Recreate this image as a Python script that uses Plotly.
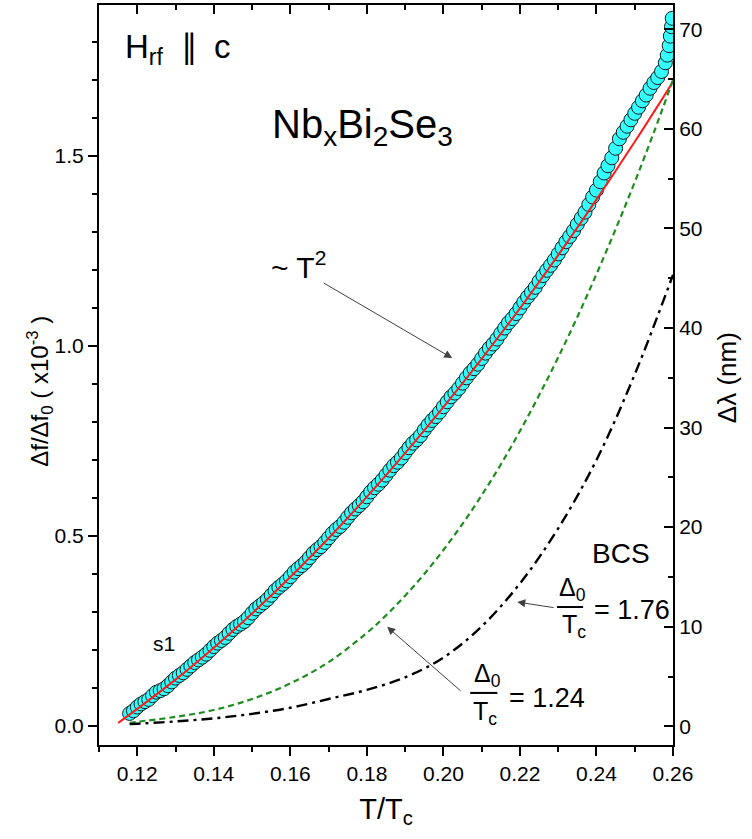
import plotly.graph_objects as go

# measured data, s1
t_data = [0.118, 0.119, 0.120, 0.121, 0.122, 0.123, 0.124, 0.125, 0.126, 0.127,
          0.128, 0.129, 0.130, 0.131, 0.132, 0.133, 0.134, 0.135, 0.136, 0.137,
          0.138, 0.139, 0.140, 0.141, 0.142, 0.143, 0.144, 0.145, 0.146, 0.147,
          0.148, 0.149, 0.150, 0.151, 0.152, 0.153, 0.154, 0.155, 0.156, 0.157,
          0.158, 0.159, 0.160, 0.161, 0.162, 0.163, 0.164, 0.165, 0.166, 0.167,
          0.168, 0.169, 0.170, 0.171, 0.172, 0.173, 0.174, 0.175, 0.176, 0.177,
          0.178, 0.179, 0.180, 0.181, 0.182, 0.183, 0.184, 0.185, 0.186, 0.187,
          0.188, 0.189, 0.190, 0.191, 0.192, 0.193, 0.194, 0.195, 0.196, 0.197,
          0.198, 0.199, 0.200, 0.201, 0.202, 0.203, 0.204, 0.205, 0.206, 0.207,
          0.208, 0.209, 0.210, 0.211, 0.212, 0.213, 0.214, 0.215, 0.216, 0.217,
          0.218, 0.219, 0.220, 0.221, 0.222, 0.223, 0.224, 0.225, 0.226, 0.227,
          0.228, 0.229, 0.230, 0.231, 0.232, 0.233, 0.234, 0.235, 0.236, 0.237,
          0.238, 0.239, 0.240, 0.241, 0.242, 0.243, 0.244, 0.245, 0.246, 0.247,
          0.248, 0.249, 0.250, 0.251, 0.252, 0.253, 0.254, 0.255, 0.256, 0.257,
          0.258, 0.2585, 0.259, 0.2593, 0.2596, 0.2598]
df_data = [0.033, 0.040, 0.050, 0.058, 0.064, 0.070, 0.080, 0.089, 0.093, 0.098,
           0.106, 0.116, 0.126, 0.133, 0.140, 0.149, 0.158, 0.167, 0.174, 0.181,
           0.189, 0.199, 0.209, 0.218, 0.225, 0.233, 0.244, 0.254, 0.262, 0.268,
           0.275, 0.285, 0.297, 0.308, 0.316, 0.324, 0.333, 0.344, 0.356, 0.365,
           0.373, 0.382, 0.393, 0.405, 0.414, 0.422, 0.431, 0.443, 0.455, 0.464,
           0.472, 0.483, 0.495, 0.507, 0.517, 0.525, 0.536, 0.549, 0.561, 0.571,
           0.580, 0.590, 0.603, 0.616, 0.627, 0.636, 0.647, 0.660, 0.673, 0.685,
           0.694, 0.705, 0.719, 0.732, 0.744, 0.753, 0.764, 0.779, 0.792, 0.804,
           0.814, 0.826, 0.840, 0.853, 0.866, 0.876, 0.888, 0.902, 0.916, 0.929,
           0.940, 0.952, 0.967, 0.981, 0.994, 1.005, 1.018, 1.033, 1.047, 1.061,
           1.072, 1.085, 1.100, 1.115, 1.129, 1.141, 1.154, 1.170, 1.185, 1.199,
           1.212, 1.226, 1.242, 1.258, 1.274, 1.288, 1.303, 1.320, 1.336, 1.352,
           1.372, 1.392, 1.410, 1.432, 1.455, 1.474, 1.495, 1.520, 1.545, 1.562,
           1.578, 1.595, 1.612, 1.628, 1.645, 1.660, 1.678, 1.693, 1.706, 1.722,
           1.745, 1.765, 1.790, 1.815, 1.840, 1.862]

# ~T^2 fit
t_fit = [0.115, 0.12, 0.13, 0.14, 0.15, 0.16, 0.17, 0.18, 0.19, 0.20, 0.21,
         0.22, 0.23, 0.24, 0.25, 0.26]
df_fit = [0.008, 0.045, 0.122, 0.206, 0.296, 0.392, 0.494, 0.603, 0.718, 0.839,
          0.966, 1.099, 1.239, 1.385, 1.537, 1.695]

# BCS curves
t_bcs = [0.118, 0.12, 0.13, 0.14, 0.15, 0.16, 0.17, 0.18, 0.185, 0.19, 0.195,
         0.20, 0.205, 0.21, 0.215, 0.22, 0.225, 0.23, 0.235, 0.24, 0.245, 0.25,
         0.255, 0.26]
df_bcs_124 = [0.008, 0.011, 0.024, 0.042, 0.071, 0.112, 0.168, 0.245, 0.291,
              0.343, 0.400, 0.463, 0.532, 0.607, 0.688, 0.776, 0.870, 0.970,
              1.076, 1.189, 1.307, 1.431, 1.562, 1.700]
t_bcs2 = [0.118, 0.12, 0.13, 0.14, 0.15, 0.16, 0.17, 0.18, 0.19, 0.20, 0.21,
          0.22, 0.23, 0.24, 0.25, 0.26]
df_bcs_176 = [0.005, 0.006, 0.012, 0.020, 0.032, 0.048, 0.071, 0.095, 0.128,
              0.180, 0.262, 0.375, 0.520, 0.700, 0.925, 1.187]

FONT = "Arial, Liberation Sans, sans-serif"

fig = go.Figure()

fig.add_trace(go.Scatter(
    x=t_data, y=df_data, mode="markers", name="s1",
    marker=dict(size=14, color="#33FFFF", line=dict(color="#1a1a1a", width=1)),
))
fig.add_trace(go.Scatter(
    x=t_fit, y=df_fit, mode="lines", line=dict(color="#FF1A1A", width=2, shape="spline"),
))
fig.add_trace(go.Scatter(
    x=t_bcs, y=df_bcs_124, mode="lines",
    line=dict(color="#1E8C1E", width=2.2, dash="6px,4px", shape="spline"),
))
fig.add_trace(go.Scatter(
    x=t_bcs2, y=df_bcs_176, mode="lines",
    line=dict(color="black", width=2.4, dash="11px,5px,3px,5px", shape="spline"),
))
# empty trace so the top / right axes get drawn
fig.add_trace(go.Scatter(x=[None], y=[None], xaxis="x2", yaxis="y2", hoverinfo="skip"))

axis_common = dict(showline=True, linecolor="black", linewidth=2, showgrid=False,
                   zeroline=False, tickcolor="black", tickwidth=1.5,
                   tickfont=dict(family=FONT, size=21, color="black"))

fig.update_layout(
    width=752, height=839, autosize=False,
    margin=dict(l=99, r=79, t=5, b=94),
    plot_bgcolor="white", paper_bgcolor="white",
    showlegend=False,
    font=dict(family=FONT, color="black"),
    xaxis=dict(range=[0.11, 0.26], dtick=0.02, tick0=0, tickformat=".2f",
               ticks="outside", ticklen=9,
               minor=dict(dtick=0.01, ticks="outside", ticklen=5, tickcolor="black", tickwidth=1.5),
               title=dict(text="T/T<sub>c</sub>", font=dict(family=FONT, size=29), standoff=14),
               **axis_common),
    xaxis2=dict(range=[0.11, 0.26], overlaying="x", side="top", anchor="y",
                dtick=0.02, tick0=0, ticks="inside", ticklen=9, showticklabels=False,
                minor=dict(dtick=0.01, ticks="inside", ticklen=5, tickcolor="black", tickwidth=1.5),
                **axis_common),
    yaxis=dict(range=[-0.05, 1.897], dtick=0.5, tick0=0, tickformat=".1f",
               ticks="outside", ticklen=9,
               minor=dict(dtick=0.1, ticks="outside", ticklen=5, tickcolor="black", tickwidth=1.5),
               **axis_common),
    yaxis2=dict(range=[-1.88, 72.44], overlaying="y", side="right", anchor="x",
                dtick=10, tick0=0, ticks="inside", ticklen=9,
                minor=dict(dtick=5, ticks="inside", ticklen=5, tickcolor="black", tickwidth=1.5),
                **axis_common),
)

# axis titles placed as rotated annotations (they sit off-centre in the original)
fig.add_annotation(x=-0.135, y=0.478, xref="paper", yref="paper", showarrow=False,
                   text="Δf/Δf<sub>0</sub> ( x10<sup>-3</sup> )", textangle=-90,
                   font=dict(family=FONT, size=24, color="black"))
fig.add_annotation(x=1.124, y=0.496, xref="paper", yref="paper", showarrow=False,
                   text="Δλ (nm)", textangle=-90,
                   font=dict(family=FONT, size=26, color="black"))


def label(x, y, text, size, xanchor="center", yanchor="middle"):
    fig.add_annotation(x=x, y=y, xref="x", yref="y", text=text, showarrow=False,
                       xanchor=xanchor, yanchor=yanchor,
                       font=dict(family=FONT, size=size, color="black"))


def arrow(x, y, ax, ay):
    fig.add_annotation(x=x, y=y, ax=ax, ay=ay, xref="x", yref="y", axref="x", ayref="y",
                       text="", showarrow=True, arrowhead=2, arrowsize=1.6,
                       arrowwidth=1, arrowcolor="#404040")


label(0.1163, 1.78, "H<sub>rf</sub>  ∥ \u2009c", 33, xanchor="left")
label(0.1547, 1.575, "Nb<sub>x</sub>Bi<sub>2</sub>Se<sub>3</sub>", 40, xanchor="left")
label(0.1545, 1.213, "~ T<sup>2</sup>", 30, xanchor="left")
label(0.1270, 0.218, "s1", 21)
label(0.2465, 0.455, "BCS", 28)

# Δ0/Tc = 1.76
label(0.2337, 0.360, "Δ<sub>0</sub>", 25)
label(0.2340, 0.262, "T<sub>c</sub>", 25)
label(0.2389, 0.305, "= 1.76", 27, xanchor="left")
fig.add_shape(type="line", xref="x", yref="y", x0=0.2297, x1=0.2365, y0=0.313, y1=0.313,
              line=dict(color="black", width=2))
# Δ0/Tc = 1.24
label(0.2114, 0.134, "Δ<sub>0</sub>", 25)
label(0.2110, 0.035, "T<sub>c</sub>", 25)
label(0.2167, 0.074, "= 1.24", 27, xanchor="left")
fig.add_shape(type="line", xref="x", yref="y", x0=0.2070, x1=0.2141, y0=0.087, y1=0.087,
              line=dict(color="black", width=2))

arrow(0.2023, 0.968, 0.1683, 1.168)
arrow(0.2193, 0.326, 0.2292, 0.311)
arrow(0.1853, 0.261, 0.2049, 0.089)

fig.write_html("out.html", config={"displayModeBar": False},
               post_script="document.body.style.margin='0';")
